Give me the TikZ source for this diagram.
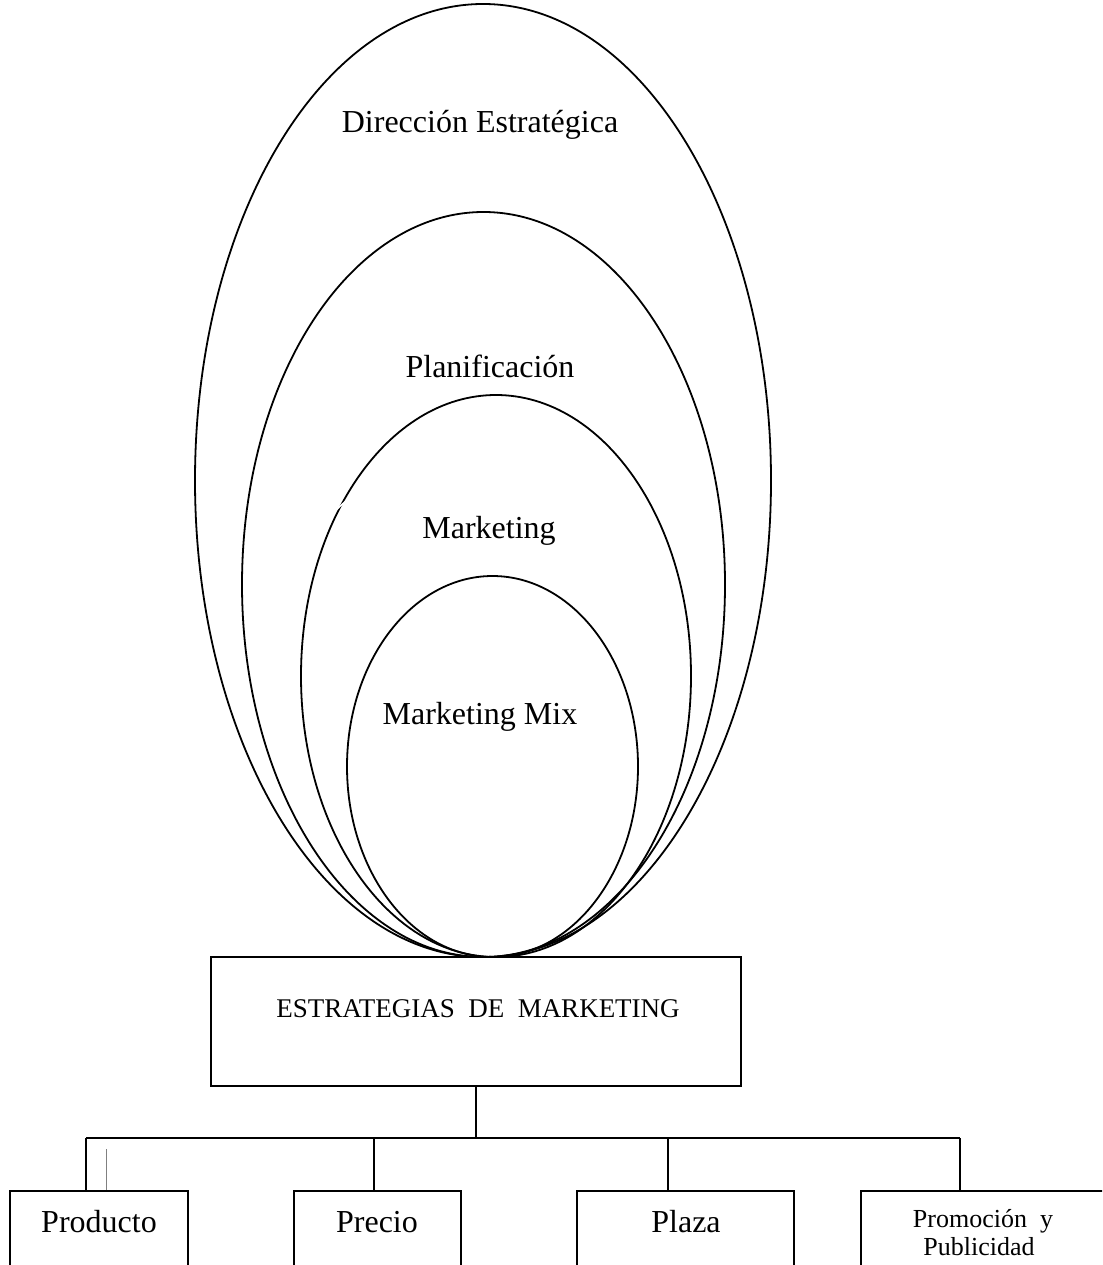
\documentclass[tikz,border=0pt]{standalone}
\usepackage{fontspec}
\setmainfont{Liberation Serif}
\begin{document}
\begin{tikzpicture}[x=1pt,y=-1pt,
  ring/.style={line width=1.8pt},
  boxshape/.style={draw, line width=1.8pt, rectangle, inner sep=0pt},
  wire/.style={line width=1.6pt},
  bigtxt/.style={inner sep=0pt, anchor=base, font=\fontsize{32}{38}\selectfont},
  midtxt/.style={inner sep=0pt, anchor=base, font=\fontsize{26}{30}\selectfont}]
\clip (0,0) rectangle (1102,1265);
\fill[white] (0,0) rectangle (1102,1265);
% nested ellipses
\draw[ring] (483,480.5) ellipse [x radius=288pt, y radius=476.5pt];
\draw[ring] (483.5,584.5) ellipse [x radius=241.5pt, y radius=372.5pt];
\draw[ring] (496,676) ellipse [x radius=195pt, y radius=281pt];
\draw[ring] (492.5,766.5) ellipse [x radius=145.5pt, y radius=190.5pt];
% small white break on the third ellipse
\draw[white, line width=1.5pt] (334,512) -- (350,497);
% labels in the ellipses
\node[bigtxt] (dir) at (480,133) {Dirección Estratégica};
\node[bigtxt] (plan) at (490,377) {Planificación};
\node[bigtxt] (mkt) at (489,538) {Marketing};
\node[bigtxt] (mix) at (480,724) {Marketing Mix};
% main box
\node[boxshape, minimum width=530pt, minimum height=129pt] (est) at (476,1021.5) {};
\node[midtxt, font=\fontsize{27}{31}\selectfont] (estlbl) at (478,1017) {ESTRATEGIAS\ \ DE\ \ MARKETING};
% bottom boxes
\node[boxshape, minimum width=178pt, minimum height=140pt] (prod) at (99,1261) {};
\node[boxshape, minimum width=167pt, minimum height=140pt] (prec) at (377.5,1261) {};
\node[boxshape, minimum width=217pt, minimum height=140pt] (plaz) at (685.5,1261) {};
\node[boxshape, minimum width=260pt, minimum height=140pt] (prom) at (991,1261) {};
\node[bigtxt] (prodlbl) at (99,1232) {Producto};
\node[bigtxt] (preclbl) at (377,1232) {Precio};
\node[bigtxt] (plazlbl) at (686,1232) {Plaza};
\node[midtxt] (promlbl1) at (983,1227) {Promoción\ \ y};
\node[midtxt] (promlbl2) at (979,1255) {Publicidad};
% connectors
\coordinate (hub) at (476,1138);
\coordinate (dP) at (86,1138);
\coordinate (dR) at (374,1138);
\coordinate (dL) at (668,1138);
\coordinate (dM) at (960,1138);
\draw[wire] (est.south) -- (hub);
\draw[wire] (dP) -- (dM);
\draw[wire] (dP) -- (dP |- prod.north);
\draw[wire] (dR) -- (dR |- prec.north);
\draw[wire] (dL) -- (dL |- plaz.north);
\draw[wire] (dM) -- (dM |- prom.north);
\coordinate (stub) at (106,1149);
\draw[gray, line width=1pt] (stub) -- (stub |- prod.north);
\end{tikzpicture}
\end{document}
